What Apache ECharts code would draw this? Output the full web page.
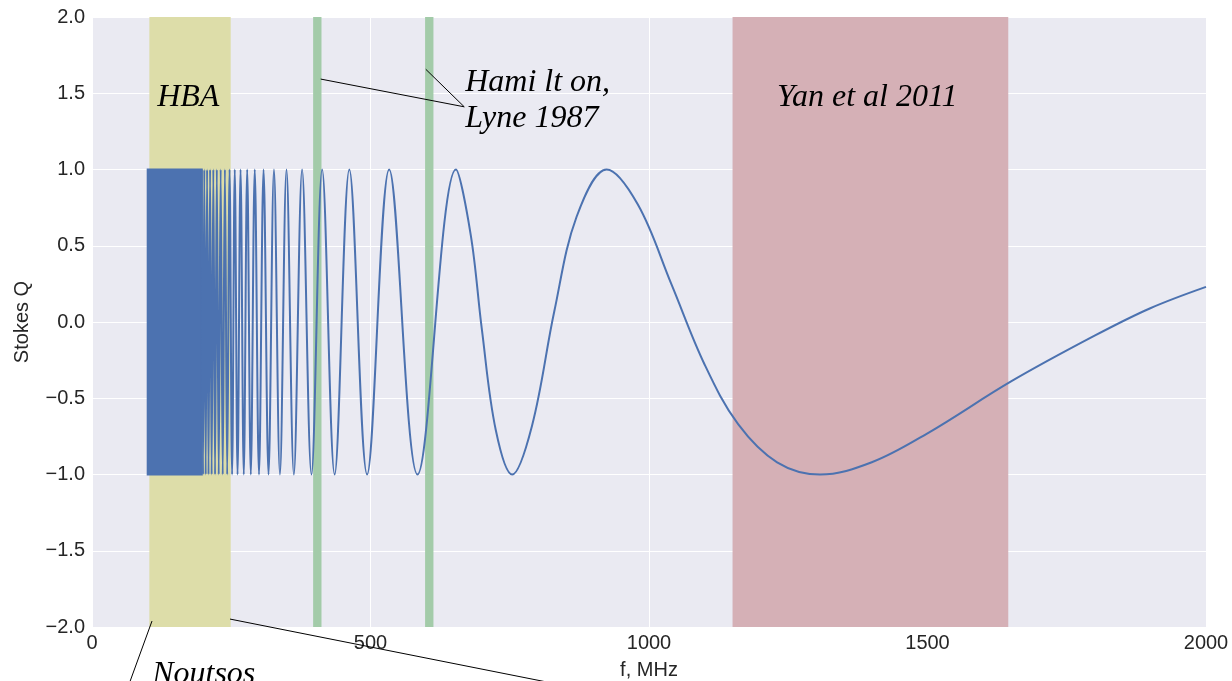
<!DOCTYPE html>
<html>
<head>
<meta charset="utf-8">
<script src="https://cdn.jsdelivr.net/npm/echarts@6/dist/echarts.min.js"></script>
<style>
  html, body { margin: 0; background: #fff; }
  #chart { width: 1232px; height: 681px; }
</style>
</head>
<body>
<div id="chart"></div>
<script>
// turning points and read-off points of the Stokes Q curve (MHz)
const freq = [
    197, 199.3, 201.6, 204.1, 206.6, 209.2, 212, 214.8, 217.8, 220.9,
    224.1, 227.5, 231, 234.7, 238.6, 242.7, 247, 251.5, 256.3, 261.3,
    266.7, 272.5, 278.6, 285.1, 292.2, 299.8, 308, 316.9, 326.7, 337.4,
    349.2, 362.4, 377.2, 394, 413.2, 435.6, 462, 493.9, 533.5, 584.4,
    653.4, 680, 700, 725, 754.4, 790, 830, 870, 924, 980,
    1040, 1100, 1160, 1230, 1307, 1400, 1500, 1650, 1800, 1900, 2000
]
const stokesQ = [
    1, -1, 1, -1, 1, -1, 1, -1, 1, -1,
    1, -1, 1, -1, 1, -1, 1, -1, 1, -1,
    1, -1, 1, -1, 1, -1, 1, -1, 1, -1,
    1, -1, 1, -1, 1, -1, 1, -1, 1, -1,
    1, 0.57, -0.05, -0.71, -1, -0.68, 0.07, 0.69, 1, 0.77,
    0.25, -0.28, -0.67, -0.92, -1, -0.92, -0.73, -0.39, -0.09, 0.09, 0.23
]
// below ~197 MHz the oscillation is too fast to resolve: a solid block
const denseRange = [100, 197]

// shaded frequency ranges
const hbaRange = [103, 249]
const hamiltonRanges = [[397, 412], [598, 613]]
const yanRange = [1150, 1645]

const xTicks = [0, 500, 1000, 1500, 2000]
const yTicks = [-2, -1.5, -1, -0.5, 0, 0.5, 1, 1.5, 2]

// annotation texts, x and baseline y in data units
const notes = [
    { text: 'HBA', x: 117, y: 1.4 },
    { text: 'Hami lt on,', x: 670, y: 1.5 },
    { text: 'Lyne 1987', x: 670, y: 1.26 },
    { text: 'Yan et al 2011', x: 1230, y: 1.4 },
    { text: 'Noutsos', x: 108, y: -2.38 }
]
// annotation connector lines, data units
const pointers = [
    [[410.6, 1.593], [668.3, 1.411]],
    [[599.3, 1.657], [668.3, 1.411]],
    [[107.7, -1.961], [61, -2.43]],
    [[247.8, -1.948], [912, -2.43]]
]

const labelFont = 'Liberation Sans'
const noteFont = 'Liberation Serif'
const minus = (s) => s.replace('-', '\u2212')

const chart = echarts.init(document.getElementById('chart'))

const bandArea = (r, color) => [{ xAxis: r[0], itemStyle: { color: color } }, { xAxis: r[1] }]

chart.setOption({
    animation: false,
    backgroundColor: '#ffffff',
    grid: {
        left: 92, right: 26, top: 17, bottom: 54,
        show: true, backgroundColor: '#EAEAF2', borderWidth: 0,
        outerBoundsMode: 'none'
    },
    xAxis: {
        type: 'value',
        min: xTicks[0], max: xTicks[xTicks.length - 1], interval: 500,
        name: 'f, MHz', nameLocation: 'middle', nameGap: 33,
        nameTextStyle: { fontFamily: labelFont, fontSize: 20, color: '#262626' },
        axisLine: { show: false }, axisTick: { show: false },
        axisLabel: { fontFamily: labelFont, fontSize: 20, color: '#262626', margin: 6,
            formatter: (v) => String(v) },
        splitLine: { show: true, lineStyle: { color: '#ffffff', width: 1 } }
    },
    yAxis: {
        type: 'value',
        min: yTicks[0], max: yTicks[yTicks.length - 1], interval: 0.5,
        name: 'Stokes Q', nameLocation: 'middle', nameGap: 60, nameRotate: 90,
        nameTextStyle: { fontFamily: labelFont, fontSize: 20, color: '#262626' },
        axisLine: { show: false }, axisTick: { show: false },
        axisLabel: { fontFamily: labelFont, fontSize: 20, color: '#262626', margin: 7,
            formatter: (v) => minus(v.toFixed(1)) },
        splitLine: { show: true, lineStyle: { color: '#ffffff', width: 1 } }
    },
    series: [
        {
            // shaded bands only
            type: 'line',
            data: [],
            z: 1,
            silent: true,
            markArea: {
                silent: true,
                data: [
                    bandArea(hbaRange, '#DDDDA9'),
                    bandArea(hamiltonRanges[0], '#A3CBA9'),
                    bandArea(hamiltonRanges[1], '#A3CBA9'),
                    bandArea(yanRange, '#D5B0B6')
                ]
            }
        },
        {
            type: 'line',
            data: freq.map((f, i) => [f, stokesQ[i]]),
            z: 2,
            smooth: 0.36,
            showSymbol: false,
            symbol: 'none',
            sampling: null,
            lineStyle: { color: '#4C72B0', width: 2 },
            markArea: {
                silent: true,
                itemStyle: { color: '#4C72B0', borderColor: '#4C72B0', borderWidth: 2 },
                data: [[{ coord: [denseRange[0], -1] }, { coord: [denseRange[1], 1] }]]
            }
        }
    ]
})

// annotations go on top, placed through the axes
const px = (p) => chart.convertToPixel({ gridIndex: 0 }, p)
const noteSize = 32
const graphics = []
pointers.forEach((seg) => {
    const a = px(seg[0])
    const b = px(seg[1])
    graphics.push({
        type: 'line', z: 100, silent: true,
        shape: { x1: a[0], y1: a[1], x2: b[0], y2: b[1] },
        style: { stroke: '#000000', lineWidth: 1 }
    })
})
notes.forEach((n) => {
    const p = px([n.x, n.y])
    graphics.push({
        type: 'text', z: 100, silent: true,
        x: p[0], y: p[1] - noteSize * 0.3375,
        style: {
            text: n.text, fill: '#000000',
            fontFamily: noteFont, fontStyle: 'italic', fontSize: noteSize,
            align: 'left', verticalAlign: 'middle'
        }
    })
})
chart.setOption({ graphic: graphics })
</script>
</body>
</html>
